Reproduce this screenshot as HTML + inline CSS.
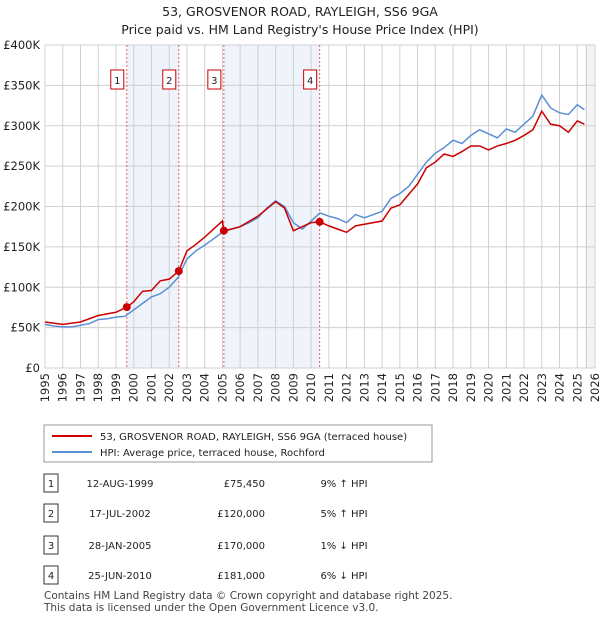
<!DOCTYPE html>
<html><head><meta charset="utf-8"><style>
body{margin:0;background:#fff;font-family:"Liberation Sans","DejaVu Sans",sans-serif;}
svg text{font-family:"DejaVu Sans","Liberation Sans",sans-serif;}
</style></head><body>
<svg id="c" width="600" height="620" xmlns="http://www.w3.org/2000/svg">
<text x="300" y="16" text-anchor="middle" font-size="12.5" fill="#222">53, GROSVENOR ROAD, RAYLEIGH, SS6 9GA</text>
<text x="300" y="34" text-anchor="middle" font-size="12.5" fill="#222">Price paid vs. HM Land Registry's House Price Index (HPI)</text>
<g id="plot"></g>
<rect x="44" y="425" width="388" height="37" fill="#fff" stroke="#999"/>
<line x1="52" y1="436" x2="92" y2="436" stroke="#cc0000" stroke-width="2"/>
<text x="100" y="440" font-size="10" fill="#222">53, GROSVENOR ROAD, RAYLEIGH, SS6 9GA (terraced house)</text>
<line x1="52" y1="452" x2="92" y2="452" stroke="#5b8fd4" stroke-width="2"/>
<text x="100" y="456" font-size="10" fill="#222">HPI: Average price, terraced house, Rochford</text>
<g id="tbl"></g>
<text x="44" y="599" font-size="10.5" fill="#444">Contains HM Land Registry data © Crown copyright and database right 2025.</text>
<text x="44" y="611" font-size="10.5" fill="#444">This data is licensed under the Open Government Licence v3.0.</text>
</svg>
<script>
const NS="http://www.w3.org/2000/svg";
const hpiYears=[1995,1995.5,1996,1996.5,1997,1997.5,1998,1998.5,1999,1999.5,2000,2000.5,2001,2001.5,2002,2002.5,2003,2003.5,2004,2004.5,2005,2005.5,2006,2006.5,2007,2007.5,2008,2008.5,2009,2009.5,2010,2010.5,2011,2011.5,2012,2012.5,2013,2013.5,2014,2014.5,2015,2015.5,2016,2016.5,2017,2017.5,2018,2018.5,2019,2019.5,2020,2020.5,2021,2021.5,2022,2022.5,2023,2023.5,2024,2024.5,2025,2025.4];
const hpiValues=[54,52,51,51,53,55,60,61,63,64,72,80,88,92,100,112,135,145,152,160,168,172,175,180,186,198,207,200,180,172,182,192,188,185,180,190,186,190,194,210,216,225,240,255,266,273,282,278,288,295,290,285,296,292,302,312,338,322,316,314,326,320];
const ppYears=[1995,1996,1997,1998,1999,1999.61,2000,2000.5,2001,2001.5,2002,2002.54,2003,2003.5,2004,2004.5,2005,2005.08,2005.5,2006,2007,2008,2008.5,2009,2009.5,2010,2010.48,2011,2011.5,2012,2012.5,2013,2014,2014.5,2015,2015.5,2016,2016.5,2017,2017.5,2018,2018.5,2019,2019.5,2020,2020.5,2021,2021.5,2022,2022.5,2023,2023.5,2024,2024.5,2025,2025.4];
const ppValues=[57,54,57,65,69,75.45,82,95,96,108,110,120,145,153,162,172,182,170,172,175,188,206,198,170,175,180,181,176,172,168,176,178,182,198,202,215,228,248,255,265,262,268,275,275,270,275,278,282,288,295,318,302,300,292,306,302];
const saleLabels=["1","2","3","4"];
const saleYears=[1999.61,2002.54,2005.08,2010.48];
const saleValues=[75.45,120,170,181];
const saleDates=["12-AUG-1999","17-JUL-2002","28-JAN-2005","25-JUN-2010"];
const salePrices=["£75,450","£120,000","£170,000","£181,000"];
const saleHpi=["9% ↑ HPI","5% ↑ HPI","1% ↓ HPI","6% ↓ HPI"];
const yTicks=[0,50,100,150,200,250,300,350,400];
const xTicks=[1995,1996,1997,1998,1999,2000,2001,2002,2003,2004,2005,2006,2007,2008,2009,2010,2011,2012,2013,2014,2015,2016,2017,2018,2019,2020,2021,2022,2023,2024,2025,2026];
const X0=45,X1=595,Y0=368,Y1=45;
const xs=y=>X0+(y-1995)/31*(X1-X0);
const ys=v=>Y0-v/400*(Y0-Y1);
const P=document.getElementById('plot');
function mk(t,a,p){const e=document.createElementNS(NS,t);for(const k in a)e.setAttribute(k,a[k]);(p||P).appendChild(e);return e;}
// shading
for(const [a,b] of [[0,1],[2,3]]){
 const r=mk('rect',{x:xs(saleYears[a]),y:Y1,width:xs(saleYears[b])-xs(saleYears[a]),height:Y0-Y1,fill:'#eef3fc'});
 
 
}
// hatch
const hx=xs(2025.5);
const hr=mk('rect',{x:hx,y:Y1,width:X1-hx,height:Y0-Y1,fill:'#f4f4f4',stroke:'#999','stroke-width':0.5});


for(const t of xTicks){const l=mk('line',{x1:xs(t),x2:xs(t),y1:Y1,y2:Y0,stroke:'#d0d0d0'});
 
 
 const tx=mk('text',{transform:`translate(${xs(t)+4},${Y0+5}) rotate(-90)`,'text-anchor':'end','font-size':11.5,fill:'#222'});tx.textContent=t;
 
 }
for(const t of yTicks){const l=mk('line',{x1:X0,x2:X1,y1:ys(t),y2:ys(t),stroke:'#d0d0d0'});
 
 
 const tx=mk('text',{x:X0-5,y:ys(t)+4,'text-anchor':'end','font-size':11.5,fill:'#222'});tx.textContent=t?'£'+t+'K':'£0';
 
 }
for(let i=0;i<saleYears.length;i++){
 const l=mk('line',{x1:xs(saleYears[i]),x2:xs(saleYears[i]),y1:Y1,y2:Y0,stroke:'#e06060','stroke-dasharray':'2,2'});
 
 
 const bx=xs(saleYears[i])-16;
 const r=mk('rect',{x:bx,y:70,width:13,height:19,fill:'#fff',stroke:'#cc0000'});
 
 
 const t=mk('text',{x:bx+6.5,y:84,'text-anchor':'middle','font-size':10,fill:'#222'});t.textContent=saleLabels[i];
 
 
}
const hp=mk('polyline',{points:hpiYears.map((y,i)=>xs(y)+','+ys(hpiValues[i])).join(' '),fill:'none',stroke:'#5b8fd4','stroke-width':1.5});


const pp=mk('polyline',{points:ppYears.map((y,i)=>xs(y)+','+ys(ppValues[i])).join(' '),fill:'none',stroke:'#cc0000','stroke-width':1.5});


for(let i=0;i<saleYears.length;i++){const c=mk('circle',{cx:xs(saleYears[i]),cy:ys(saleValues[i]),r:4,fill:'#cc0000'});
 
 }
const T=document.getElementById('tbl');const rowY=[483,513,545,575];
for(let i=0;i<4;i++){const y=rowY[i];
 const r=mk('rect',{x:44,y:y-9,width:14,height:18,fill:'#fff',stroke:'#333'},T);
 
 
 const vals=[[saleLabels[i],51,'middle'],[saleDates[i],120,'middle'],[salePrices[i],265,'end'],[saleHpi[i],344,'middle']];
 for(const [s,x,a] of vals){const t=mk('text',{x:x,y:y+4,'text-anchor':a,'font-size':10,fill:'#222'},T);t.textContent=s;
 
 }
}
</script>
</body></html>
